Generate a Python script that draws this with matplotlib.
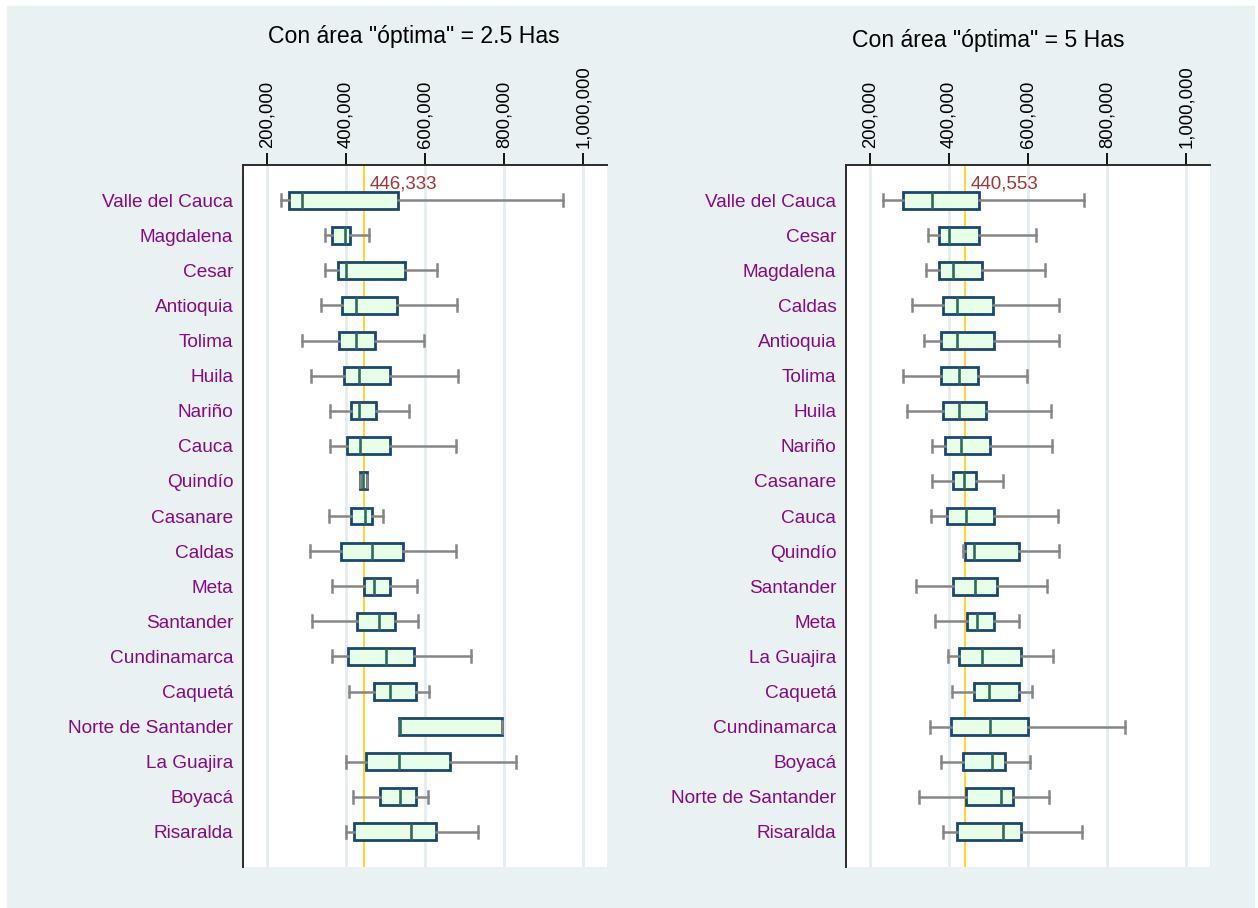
import numpy as np
import matplotlib
matplotlib.use("Agg")
import matplotlib.pyplot as plt
from matplotlib.patches import Rectangle
from matplotlib.ticker import FuncFormatter

plt.rcParams['font.family'] = ['Liberation Sans', 'DejaVu Sans']

# ---- data: panel A (optimal area = 2.5 Has) ----
cats_a = ["Valle del Cauca", "Magdalena", "Cesar", "Antioquia", "Tolima", "Huila",
          "Nariño", "Cauca", "Quindío", "Casanare", "Caldas", "Meta", "Santander",
          "Cundinamarca", "Caquetá", "Norte de Santander", "La Guajira", "Boyacá",
          "Risaralda"]
lo_a = [235000, 346000, 346000, 338000, 288000, 312000, 359000, 361000, 435000, 357000,
        310000, 365000, 315000, 365000, 409000, 534000, 400000, 419000, 400000]
q1_a = [256000, 365000, 379000, 390000, 382000, 395000, 412000, 402000, 435000, 412000,
        387000, 445000, 429000, 405000, 470000, 534000, 450000, 487000, 421000]
med_a = [289000, 398000, 400000, 426000, 426000, 433000, 433000, 436000, 443000, 448000,
         467000, 472000, 483000, 502000, 512000, 536000, 534000, 537000, 564000]
q3_a = [532000, 411000, 549000, 528000, 473000, 511000, 475000, 511000, 453000, 465000,
        545000, 512000, 523000, 571000, 576000, 795000, 663000, 576000, 629000]
hi_a = [949000, 459000, 630000, 681000, 598000, 684000, 560000, 678000, 453000, 493000,
        679000, 579000, 583000, 715000, 609000, 795000, 829000, 607000, 735000]
ref_a = 446333

# ---- data: panel B (optimal area = 5 Has) ----
cats_b = ["Valle del Cauca", "Cesar", "Magdalena", "Caldas", "Antioquia", "Tolima",
          "Huila", "Nariño", "Casanare", "Cauca", "Quindío", "Santander", "Meta",
          "La Guajira", "Caquetá", "Cundinamarca", "Boyacá", "Norte de Santander",
          "Risaralda"]
lo_b = [234000, 347000, 341000, 308000, 336000, 283000, 293000, 357000, 357000, 356000,
        435000, 316000, 364000, 398000, 409000, 352000, 380000, 325000, 386000]
q1_b = [283000, 376000, 376000, 386000, 381000, 381000, 385000, 391000, 411000, 396000,
        441000, 411000, 445000, 426000, 464000, 406000, 435000, 443000, 420000]
med_b = [357000, 400000, 411000, 421000, 421000, 425000, 426000, 430000, 438000, 444000,
         463000, 465000, 470000, 484000, 502000, 504000, 509000, 531000, 536000]
q3_b = [475000, 476000, 484000, 512000, 515000, 473000, 495000, 504000, 468000, 514000,
        577000, 521000, 513000, 582000, 577000, 601000, 542000, 561000, 583000]
hi_b = [742000, 619000, 643000, 678000, 679000, 597000, 659000, 660000, 536000, 675000,
        678000, 648000, 577000, 664000, 609000, 845000, 605000, 654000, 736000]
ref_b = 440553

xticks = [200000, 400000, 600000, 800000, 1000000]

# colours
BG = '#EAF1F3'
GRID = '#E3EDF0'
BOX_FACE = '#E6FFE6'
BOX_EDGE = '#1A476F'
MED_COL = '#2E6B5C'
WHISK = '#868686'
LAB_COL = '#850A85'
REF_COL = '#FFD200'
REF_TXT = '#A0363C'


def draw_panel(ax, cats, lo, q1, med, q3, hi, ref):
    stats = []
    for i in range(len(cats)):
        stats.append(dict(label=cats[i], whislo=lo[i], q1=q1[i], med=med[i],
                          q3=q3[i], whishi=hi[i], fliers=[]))
    pos = np.arange(1, len(cats) + 1)
    ax.bxp(stats, positions=pos, widths=0.48, capwidths=0.34,
           orientation='horizontal', patch_artist=True, showfliers=False,
           boxprops=dict(facecolor=BOX_FACE, edgecolor=BOX_EDGE, linewidth=2.0),
           medianprops=dict(color=MED_COL, linewidth=1.9),
           whiskerprops=dict(color=WHISK, linewidth=1.8),
           capprops=dict(color=WHISK, linewidth=1.8))
    ax.axvline(ref, color=REF_COL, lw=1.2, zorder=1.5)
    ax.annotate(f"{ref:,}", xy=(ref, 0.55), xytext=(4, 0), textcoords='offset points',
                ha='left', va='center', color=REF_TXT, fontsize=13.5)

    ax.set_xlim(140000, 1060000)
    ax.set_ylim(20, 0)
    ax.set_xticks(xticks)
    ax.xaxis.set_major_formatter(FuncFormatter(lambda v, p: f"{v:,.0f}"))
    ax.xaxis.tick_top()
    ax.tick_params(axis='x', length=9, width=1.3, pad=3, labelsize=13.3,
                   labelrotation=90, colors='black')
    ax.tick_params(axis='y', left=False, pad=3.5, labelsize=13.7, labelcolor=LAB_COL)
    ax.xaxis.grid(True, color=GRID, lw=2)
    ax.set_axisbelow(True)
    for s in ['right', 'bottom']:
        ax.spines[s].set_visible(False)
    for s in ['left', 'top']:
        ax.spines[s].set_color('#2b2b2b')
        ax.spines[s].set_linewidth(1.4)
    ax.set_facecolor('white')


fig = plt.figure(figsize=(12.58, 9.08), dpi=100, facecolor='white')
fig.patches.append(Rectangle((7 / 1258, 0), 1247 / 1258, 902 / 908,
                             transform=fig.transFigure, color=BG, zorder=-10))

ax1 = fig.add_axes([243 / 1258, 0.04515, 364 / 1258, 0.77313])
ax2 = fig.add_axes([846 / 1258, 0.04515, 364 / 1258, 0.77313])

draw_panel(ax1, cats_a, lo_a, q1_a, med_a, q3_a, hi_a, ref_a)
draw_panel(ax2, cats_b, lo_b, q1_b, med_b, q3_b, hi_b, ref_b)

fig.text(414 / 1258, 1 - 37 / 908, 'Con área "óptima" = 2.5 Has', ha='center',
         va='center', fontsize=16.6)
fig.text(988 / 1258, 1 - 40 / 908, 'Con área "óptima" = 5 Has', ha='center',
         va='center', fontsize=16.6)

fig.savefig('out.png', dpi=100, facecolor=fig.get_facecolor())
